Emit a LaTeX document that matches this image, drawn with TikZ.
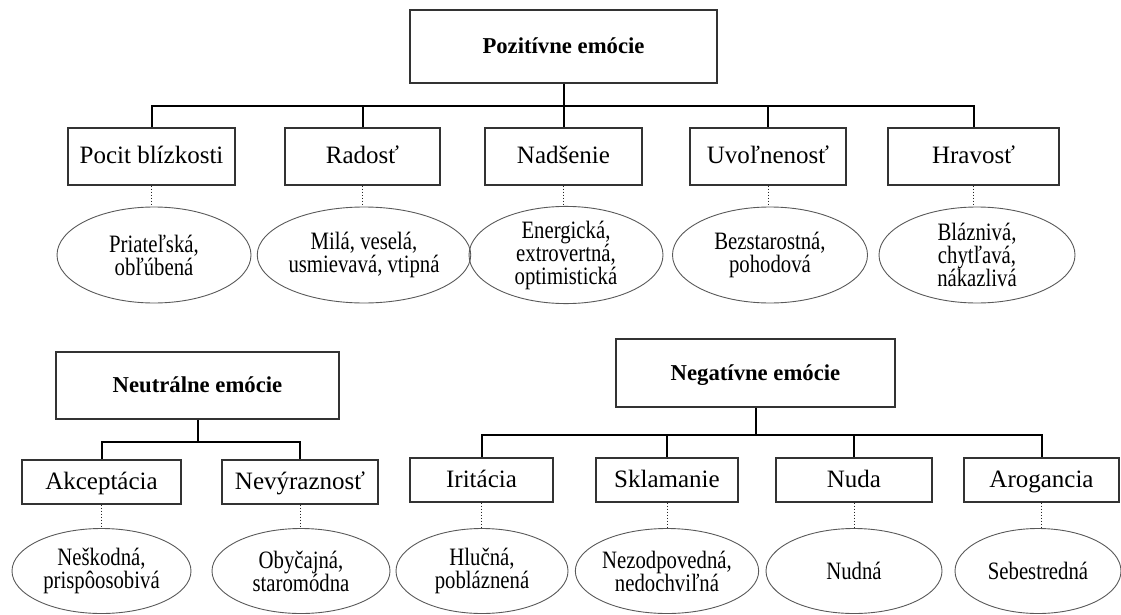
\documentclass[tikz,border=0pt]{standalone}
\usepackage{fontspec}
\setmainfont{Liberation Serif}
\newfontfamily\traitfont[FakeStretch=0.83]{Liberation Serif}
\usetikzlibrary{shapes.geometric}
\begin{document}
\begin{tikzpicture}[x=1pt,y=-1pt,
  headbox/.style={draw=black!80,line width=1.4pt,inner sep=0pt,
    text height=20pt,text depth=5.4pt,
    font=\fontsize{22.7}{26}\selectfont\bfseries},
  catbox/.style={draw=black!80,line width=1.3pt,inner sep=0pt,
    text height=20pt,text depth=6pt,
    font=\fontsize{25}{28}\selectfont},
  trait/.style={ellipse,draw=black!65,line width=0.9pt,inner sep=0pt,
    align=center,font=\traitfont\fontsize{25}{23}\selectfont},
  link/.style={line width=2pt,black},
  dots/.style={line width=1pt,black!85,dash pattern=on 1.5pt off 1.5pt}]
\useasboundingbox (0,0) rectangle (1121,615);

% ---------- positive emotions ----------
\node[headbox,minimum width=307pt,minimum height=73pt] (pos) at (563.5,46.5) {Pozitívne emócie};
\node[catbox,minimum width=167pt,minimum height=57pt] (p1) at (151.5,156.5) {Pocit blízkosti};
\node[catbox,minimum width=155pt,minimum height=57pt] (p2) at (362.5,156.5) {Radosť};
\node[catbox,minimum width=157pt,minimum height=57pt] (p3) at (563.5,156.5) {Nadšenie};
\node[catbox,minimum width=156pt,minimum height=57pt] (p4) at (768,156.5) {Uvoľnenosť};
\node[catbox,minimum width=171pt,minimum height=57pt] (p5) at (973.5,156.5) {Hravosť};

\node[trait,minimum width=194pt,minimum height=96pt] (q1) at (154,255) {Priateľská,\\obľúbená};
\node[trait,minimum width=192pt,minimum height=96pt] (q2) at (364,255) {Milá, veselá,\\usmievavá, vtipná};
\node[trait,minimum width=194pt,minimum height=96pt] (q3) at (566,255) {Energická,\\extrovertná,\\optimistická};
\node[trait,minimum width=195pt,minimum height=96pt] (q4) at (770,255) {Bezstarostná,\\pohodová};
\node[trait,minimum width=196pt,minimum height=96pt] (q5) at (977,255) {Bláznivá,\\chytľavá,\\nákazlivá};

\coordinate (pbus) at (563.5,106);
\draw[link] (pos.south) -- (pbus);
\draw[link] (p1.north) |- (pbus) -| (p5.north);
\foreach \c in {p2,p3,p4} \draw[link] (pbus -| \c.north) -- (\c.north);
\foreach \a/\b in {p1/q1,p2/q2,p3/q3,p4/q4,p5/q5}
  \draw[dots] (\a.south) -- (\a.south |- \b.north);

% ---------- neutral emotions ----------
\node[headbox,minimum width=283pt,minimum height=67pt] (neu) at (197.5,385.5) {Neutrálne emócie};
\node[catbox,minimum width=159pt,minimum height=44pt] (n1) at (101.5,482) {Akceptácia};
\node[catbox,minimum width=156pt,minimum height=44pt] (n2) at (300,482) {Nevýraznosť};

\node[trait,minimum width=179pt,minimum height=85pt] (m1) at (101.5,571) {Neškodná,\\prispôosobivá};
\node[trait,minimum width=178pt,minimum height=85pt] (m2) at (301,571) {Obyčajná,\\staromódna};

\coordinate (nbus) at (197.5,442);
\draw[link] (neu.south) -- (nbus);
\draw[link] (n1.north) |- (nbus) -| (n2.north);
\foreach \a/\b in {n1/m1,n2/m2}
  \draw[dots] (\a.south) -- (\a.south |- \b.north);

% ---------- negative emotions ----------
\node[headbox,minimum width=279pt,minimum height=68pt] (neg) at (755.5,373) {Negatívne emócie};
\node[catbox,minimum width=143pt,minimum height=44pt] (g1) at (481.5,480) {Iritácia};
\node[catbox,minimum width=142pt,minimum height=44pt] (g2) at (667,480) {Sklamanie};
\node[catbox,minimum width=156pt,minimum height=44pt] (g3) at (854,480) {Nuda};
\node[catbox,minimum width=155pt,minimum height=44pt] (g4) at (1041.5,480) {Arogancia};

\node[trait,minimum width=172pt,minimum height=85pt] (h1) at (482,571) {Hlučná,\\pobláznená};
\node[trait,minimum width=176pt,minimum height=85pt] (h2) at (667,571) {Nezodpovedná,\\nedochviľná};
\node[trait,minimum width=176pt,minimum height=85pt] (h3) at (854,571) {Nudná};
\node[trait,minimum width=166pt,minimum height=85pt] (h4) at (1038,571) {Sebestredná};

\coordinate (gbus) at (755.5,435);
\draw[link] (neg.south) -- (gbus);
\draw[link] (g1.north) |- (gbus) -| (g4.north);
\foreach \c in {g2,g3} \draw[link] (gbus -| \c.north) -- (\c.north);
\foreach \a/\b in {g1/h1,g2/h2,g3/h3,g4/h4}
  \draw[dots] (\a.south) -- (\a.south |- \b.north);
\end{tikzpicture}
\end{document}
